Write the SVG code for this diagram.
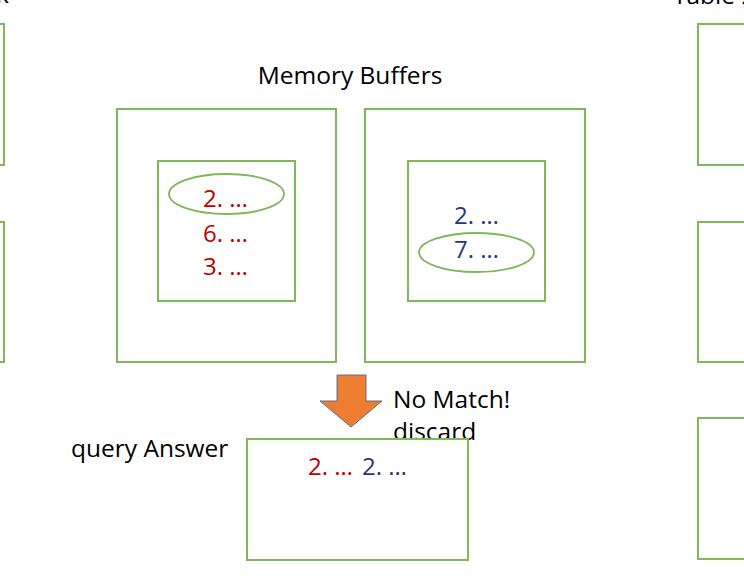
<svg xmlns="http://www.w3.org/2000/svg" width="744" height="576" viewBox="0 0 744 576">
<style>
.box{fill:none;stroke:#7fb85a;stroke-width:2}
.ell{fill:none;stroke:#7fb85a;stroke-width:1.8}
.t{font-family:"Open Sans","Liberation Sans",sans-serif;font-size:24.5px;fill:#000}
.red{font-family:"Open Sans","Liberation Sans",sans-serif;font-size:24px;fill:#c00000}
.blue{font-family:"Open Sans","Liberation Sans",sans-serif;font-size:24px;fill:#1f3a78}
</style>
<rect width="744" height="576" fill="#fff"/>
<text class="t" x="9" y="3" text-anchor="end">Disk</text>
<text class="t" x="673" y="4">Table 2</text>
<g id="side-left">
<rect class="box" x="-40" y="24" width="44" height="141"/>
<rect class="box" x="-40" y="222" width="44" height="140"/>
</g>
<g id="side-right">
<rect class="box" x="698" y="24" width="60" height="141"/>
<rect class="box" x="698" y="222" width="60" height="140"/>
<rect class="box" x="698" y="418" width="60" height="141"/>
</g>
<text class="t" x="350" y="84" text-anchor="middle">Memory Buffers</text>
<g id="buffer1">
<rect class="box" x="117" y="109" width="219" height="253"/>
<rect class="box" x="158" y="161" width="137" height="140"/>
<ellipse class="ell" cx="226.5" cy="194" rx="57.5" ry="20"/>
<text class="red" x="203" y="207">2. …</text>
<text class="red" x="203" y="242">6. …</text>
<text class="red" x="203" y="275">3. …</text>
</g>
<g id="buffer2">
<rect class="box" x="365" y="109" width="220" height="253"/>
<rect class="box" x="408" y="161" width="137" height="140"/>
<ellipse class="ell" cx="476.5" cy="252.5" rx="57.5" ry="19.5"/>
<text class="blue" x="454" y="224">2. …</text>
<text class="blue" x="454" y="258">7. …</text>
</g>
<g id="connectors">
<polygon points="337,375 366,375 366,401 382,401 351,427 320,401 337,401" fill="#ed7d31" stroke="#5a7090" stroke-width="1"/>
</g>
<text class="t" x="393" y="408">No Match!</text>
<text class="t" x="393" y="440">discard</text>
<text class="t" x="71" y="457">query Answer</text>
<g id="answer">
<rect class="box" x="247" y="439" width="221" height="121"/>
<text class="red" x="308" y="475">2. …</text>
<text class="blue" x="362" y="475">2. …</text>
</g>
</svg>
